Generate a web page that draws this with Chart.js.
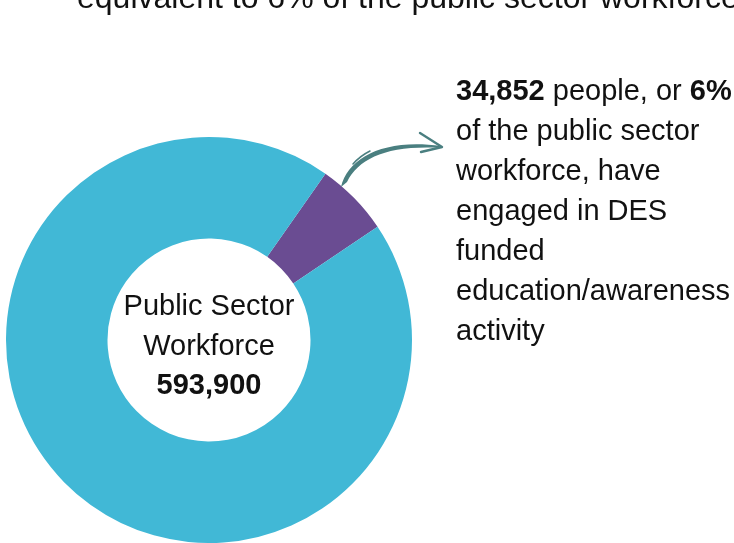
<!DOCTYPE html>
<html>
<head>
<meta charset="utf-8">
<script src="https://cdn.jsdelivr.net/npm/chart.js@4"></script>
<style>
  html, body { margin: 0; padding: 0; background: #fff; }
  body { width: 734px; height: 543px; position: relative; overflow: hidden;
         font-family: "Liberation Sans", Arial, sans-serif; color: #111; }
  #wrap { position: absolute; left: 0; top: 0; width: 734px; height: 543px; }
  .title { position: absolute; left: 77px; top: -23px; font-size: 32px; line-height: 40px; white-space: nowrap; }
  .center { position: absolute; left: 59px; width: 300px; top: 286px; text-align: center;
            font-size: 29px; line-height: 39.5px; }
  .note { position: absolute; left: 456px; top: 70px; font-size: 29px; line-height: 40px; width: 300px; white-space: nowrap; }
  b { font-weight: bold; }
</style>
</head>
<body>
<div id="wrap"><canvas id="donut" width="734" height="543"></canvas></div>
<div class="title">equivalent to 6% of the public sector workforce</div>
<div class="center">Public Sector<br>Workforce<br><b id="total"></b></div>
<div class="note"><b id="engaged"></b> people, or <b id="pct"></b><br>of the public sector<br>workforce, have<br>engaged in DES<br>funded<br>education/awareness<br>activity</div>

<script>
// public sector workforce split
var labels = ["Engaged in DES funded activity", "Rest of workforce"];
var totalWorkforce = 593900;
var engaged = [34852];
var values = [engaged[0], totalWorkforce - engaged[0]];
var colors = ["#6A4C92", "#41B8D6"];

document.getElementById('total').textContent = totalWorkforce.toLocaleString('en-US');
document.getElementById('engaged').textContent = engaged[0].toLocaleString('en-US');
document.getElementById('pct').textContent = Math.round(engaged[0] / totalWorkforce * 100) + '%';

// curved brush arrow from the small slice to the note
var arrowPlugin = {
  id: 'arrow',
  afterDraw: function(chart) {
    var c = chart.ctx;
    c.save();
    c.strokeStyle = '#4A7F80';
    c.fillStyle = '#4A7F80';
    c.lineCap = 'round';
    c.lineJoin = 'round';
    // tapered body, wide at the slice end
    c.beginPath();
    c.moveTo(341, 187);
    c.bezierCurveTo(348, 157, 385, 138, 441, 146);
    c.lineTo(441, 148);
    c.bezierCurveTo(388, 145, 359, 158, 347, 182);
    c.closePath();
    c.fill();
    // small brush flick near the start
    c.lineWidth = 1.5;
    c.beginPath();
    c.moveTo(353, 164);
    c.quadraticCurveTo(360, 156, 370, 151);
    c.stroke();
    // head
    c.lineWidth = 2.4;
    c.beginPath();
    c.moveTo(420, 133);
    c.lineTo(442, 147);
    c.lineTo(421, 152);
    c.stroke();
    c.restore();
  }
};

var ctx = document.getElementById('donut').getContext('2d');
var chart = new Chart(ctx, {
  type: 'doughnut',
  data: {
    labels: labels,
    datasets: [{
      data: values,
      backgroundColor: colors,
      borderWidth: 0,
      hoverOffset: 0
    }]
  },
  options: {
    responsive: false,
    animation: false,
    rotation: 35,
    cutout: '50%',
    layout: { padding: { left: 6, top: 137, right: 322, bottom: 0 } },
    plugins: {
      legend: { display: false },
      tooltip: { enabled: false }
    },
    events: []
  },
  plugins: [arrowPlugin]
});
</script>
</body>
</html>
